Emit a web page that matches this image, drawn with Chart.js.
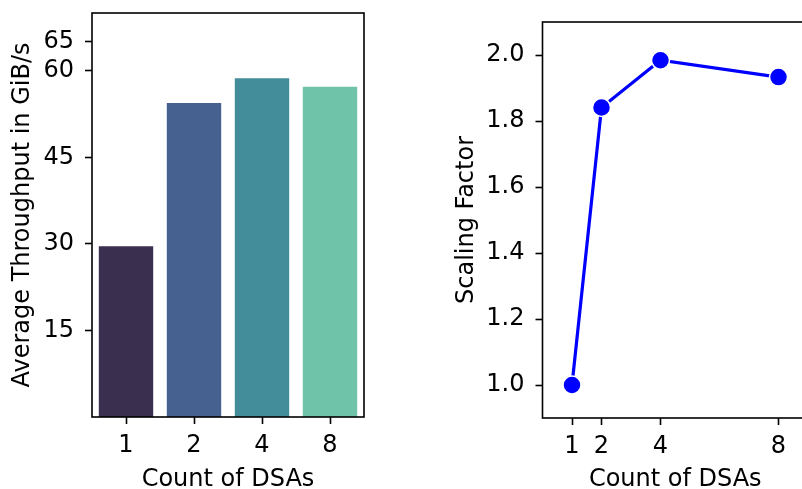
<!DOCTYPE html>
<html lang="en">
<head>
<meta charset="UTF-8"/>
<title>DSA scaling</title>
<script src="https://cdn.jsdelivr.net/npm/chart.js@4.4.7/dist/chart.umd.min.js"></script>
<style>
*{box-sizing:border-box;margin:0;padding:0}
html,body{width:802px;height:489px;overflow:hidden;background:#fff}
.panel{position:absolute;top:0}
#left{left:0;width:380px;height:500px}
#right{left:430px;width:400px;height:500px}
</style>
</head>
<body>
<div class="panel" id="left"><canvas id="barChart" width="380" height="500"></canvas></div>
<div class="panel" id="right"><canvas id="lineChart" width="400" height="500"></canvas></div>

<script>
// data
const dsaCounts    = ['1', '2', '4', '8'];
const throughput   = [29.6, 54.4, 58.7, 57.2];
const barColors    = ['#3b2f4f', '#46618f', '#438c99', '#6ec3a9'];
const barTicks     = [15, 30, 45, 60, 65];

const scaleX       = [1, 2, 4, 8];
const scaleFactor  = [1.0, 1.841, 1.984, 1.933];
const scaleYTicks  = [1.0, 1.2, 1.4, 1.6, 1.8, 2.0];

const FONT  = { family: 'DejaVu Sans', size: 24 };
const INK   = '#000';
const SPINE = 1.6;

// matplotlib-style box around the plot area
const frame = {
  id: 'frame',
  afterDraw(chart) {
    const { ctx, chartArea: a } = chart;
    ctx.save();
    ctx.strokeStyle = INK;
    ctx.lineWidth = SPINE;
    ctx.strokeRect(a.left, a.top, a.right - a.left, a.bottom - a.top);
    ctx.restore();
  }
};

const tickGrid = { drawOnChartArea: false, drawTicks: true, tickLength: 7, tickColor: INK, tickWidth: SPINE, offset: false };

// fixed axis boxes so the plot area lands where the reference has it
const fixX = h => s => { s.height = h; s.paddingLeft = 0; s.paddingRight = 0; };
const fixY = w => s => { s.width = w; s.paddingTop = 0; s.paddingBottom = 0; };

new Chart(document.getElementById('barChart'), {
  type: 'bar',
  data: {
    labels: dsaCounts,
    datasets: [{ data: throughput, backgroundColor: barColors, barPercentage: 0.8, categoryPercentage: 1.0 }]
  },
  options: {
    responsive: false, animation: false,
    layout: { padding: { left: 0, right: 16, top: 13, bottom: 0 } },
    plugins: { legend: { display: false }, tooltip: { enabled: false } },
    scales: {
      x: {
        grid: tickGrid, border: { display: false },
        ticks: { font: FONT, color: INK, padding: 7 },
        title: { display: true, text: 'Count of DSAs', font: FONT, color: INK, padding: { top: 2, bottom: 6 } },
        afterFit: fixX(83)
      },
      y: {
        min: 0, max: 70,
        grid: tickGrid, border: { display: false },
        afterBuildTicks: s => { s.ticks = barTicks.map(v => ({ value: v })); },
        ticks: { font: FONT, color: INK, padding: 11 },
        title: { display: true, text: 'Average Throughput in GiB/s', font: FONT, color: INK, padding: { top: 8, bottom: 0 } },
        afterFit: fixY(92)
      }
    }
  },
  plugins: [frame]
});

new Chart(document.getElementById('lineChart'), {
  type: 'line',
  data: {
    datasets: [{
      data: scaleX.map((x, i) => ({ x, y: scaleFactor[i] })),
      borderColor: '#0000ff', borderWidth: 3.2,
      pointRadius: 9, pointBackgroundColor: '#0000ff',
      pointBorderColor: '#fff', pointBorderWidth: 1.5,
      tension: 0
    }]
  },
  options: {
    responsive: false, animation: false,
    layout: { padding: { left: 0, right: 22, top: 22, bottom: 0 } },
    plugins: { legend: { display: false }, tooltip: { enabled: false } },
    scales: {
      x: {
        type: 'linear', min: 0, max: 9,
        grid: tickGrid, border: { display: false },
        afterBuildTicks: s => { s.ticks = scaleX.map(v => ({ value: v })); },
        ticks: { font: FONT, color: INK, padding: 7 },
        title: { display: true, text: 'Count of DSAs', font: FONT, color: INK, padding: { top: 2, bottom: 6 } },
        afterFit: fixX(82)
      },
      y: {
        min: 0.9, max: 2.1,
        grid: tickGrid, border: { display: false },
        afterBuildTicks: s => { s.ticks = scaleYTicks.map(v => ({ value: v })); },
        ticks: { font: FONT, color: INK, padding: 11, callback: v => v.toFixed(1) },
        title: { display: true, text: 'Scaling Factor', font: FONT, color: INK, padding: { top: 22, bottom: 0 } },
        afterFit: fixY(112.5)
      }
    }
  },
  plugins: [frame]
});
</script>
</body>
</html>
